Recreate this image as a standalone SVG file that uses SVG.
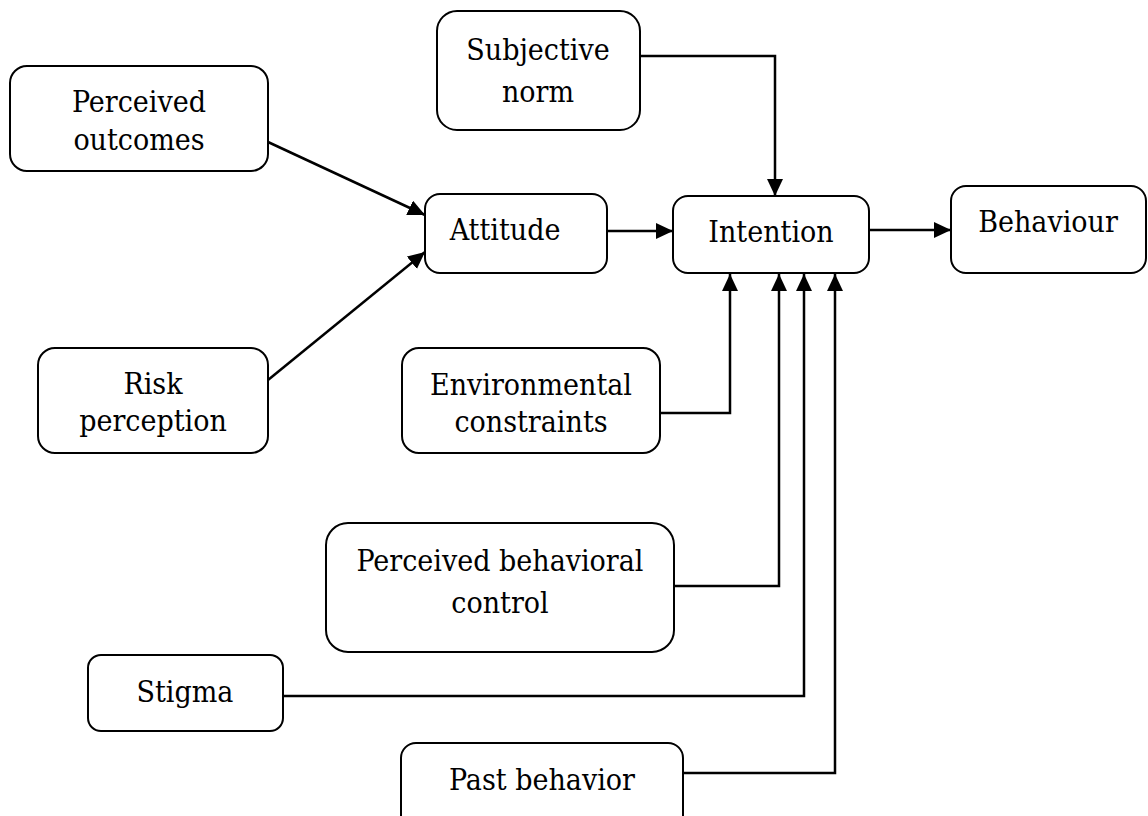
<svg xmlns="http://www.w3.org/2000/svg" width="1148" height="816" viewBox="0 0 1148 816">
<style>
.box{fill:#fff;stroke:#000;stroke-width:2}
.lbl{font-family:"DejaVu Serif","Liberation Serif",serif;font-stretch:condensed;font-size:30px;fill:#000;text-anchor:middle}
.con{fill:none;stroke:#000;stroke-width:2.5}
</style>
<defs>
<marker id="ah" markerUnits="userSpaceOnUse" markerWidth="18" markerHeight="18" refX="17" refY="8" orient="auto">
<path d="M0,0 L17,8 L0,16 z" fill="#000"/>
</marker>
</defs>
<rect width="1148" height="816" fill="#fff"/>
<g id="connectors">
<path class="con" d="M268,142 L425,215" marker-end="url(#ah)"/>
<path class="con" d="M268,380 L425,252" marker-end="url(#ah)"/>
<path class="con" d="M607,231 H673" marker-end="url(#ah)"/>
<path class="con" d="M868,230 H951" marker-end="url(#ah)"/>
<path class="con" d="M640,56 H775 V196" marker-end="url(#ah)"/>
<path class="con" d="M660,413 H730 V274" marker-end="url(#ah)"/>
<path class="con" d="M674,586 H779 V274" marker-end="url(#ah)"/>
<path class="con" d="M283,696 H804 V274" marker-end="url(#ah)"/>
<path class="con" d="M683,773 H835 V274" marker-end="url(#ah)"/>
</g>
<g id="perceived-outcomes">
<rect class="box" x="10" y="66" width="258" height="105" rx="17"/>
<text class="lbl" x="139" y="112">Perceived</text>
<text class="lbl" x="139" y="150">outcomes</text>
</g>
<g id="risk-perception">
<rect class="box" x="38" y="348" width="230" height="105" rx="17"/>
<text class="lbl" x="153" y="394">Risk</text>
<text class="lbl" x="153" y="431">perception</text>
</g>
<g id="attitude">
<rect class="box" x="425" y="194" width="182" height="79" rx="15"/>
<text class="lbl" x="505" y="240">Attitude</text>
</g>
<g id="subjective-norm">
<rect class="box" x="437" y="11" width="203" height="119" rx="20"/>
<text class="lbl" x="538" y="60">Subjective</text>
<text class="lbl" x="538" y="102">norm</text>
</g>
<g id="intention">
<rect class="box" x="673" y="196" width="196" height="77" rx="15"/>
<text class="lbl" x="771" y="242">Intention</text>
</g>
<g id="behaviour">
<rect class="box" x="951" y="186" width="195" height="87" rx="15"/>
<text class="lbl" x="1048" y="232">Behaviour</text>
</g>
<g id="environmental-constraints">
<rect class="box" x="402" y="348" width="258" height="105" rx="17"/>
<text class="lbl" x="531" y="395">Environmental</text>
<text class="lbl" x="531" y="432">constraints</text>
</g>
<g id="perceived-behavioral-control">
<rect class="box" x="326" y="523" width="348" height="129" rx="22"/>
<text class="lbl" x="500" y="571">Perceived behavioral</text>
<text class="lbl" x="500" y="613">control</text>
</g>
<g id="stigma">
<rect class="box" x="88" y="655" width="195" height="76" rx="13"/>
<text class="lbl" x="185" y="702">Stigma</text>
</g>
<g id="past-behavior">
<rect class="box" x="401" y="743" width="282" height="90" rx="15"/>
<text class="lbl" x="542" y="790">Past behavior</text>
</g>
</svg>
